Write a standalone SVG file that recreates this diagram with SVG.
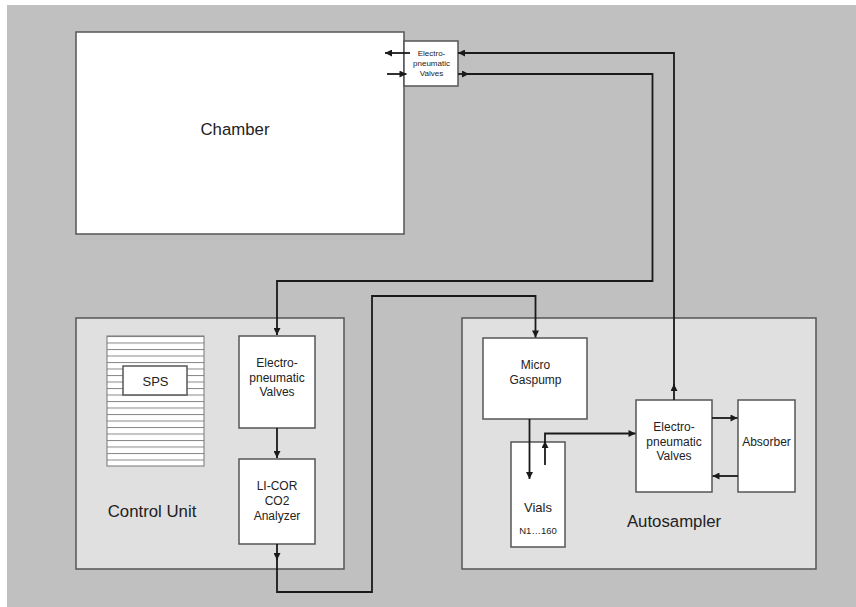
<svg xmlns="http://www.w3.org/2000/svg" width="856" height="607" viewBox="0 0 856 607">
<style>
  .box{fill:#ffffff;stroke:#555555;stroke-width:1.5}
  .panel{fill:#e0e0e0;stroke:#555555;stroke-width:1.5}
  .t{font-family:"Liberation Sans",Arial,sans-serif;fill:#222222;text-anchor:middle}
  .s12{font-size:12px}
  .s16{font-size:16.8px}
  .c{fill:none;stroke:#1a1a1a;stroke-width:1.8}
  .a{marker-end:url(#arr)}
</style>
<defs>
  <marker id="arr" viewBox="0 0 10 10" refX="10" refY="5" markerWidth="8" markerHeight="7" markerUnits="userSpaceOnUse" orient="auto">
    <polygon points="0,0 10,5 0,10" fill="#1a1a1a"/>
  </marker>
  <pattern id="hatch" patternUnits="userSpaceOnUse" x="0" y="336" width="10" height="6.5">
    <rect width="10" height="6.5" fill="#ffffff"/>
    <line x1="0" y1="0.5" x2="10" y2="0.5" stroke="#888888" stroke-width="1"/>
  </pattern>
</defs>
<rect x="0" y="0" width="856" height="607" fill="#ffffff"/>
<rect x="7" y="5" width="849" height="602" fill="#c0c0c0"/>

<g id="chamber">
  <rect class="box" x="76" y="32" width="328" height="202"/>
  <text class="t s16" x="235" y="135">Chamber</text>
</g>
<g id="top-valves">
  <rect class="box" x="404" y="41" width="54" height="45"/>
  <text class="t" style="font-size:8px" x="431.5" y="56">Electro-</text>
  <text class="t" style="font-size:8px" x="431.5" y="66">pneumatic</text>
  <text class="t" style="font-size:8px" x="431.5" y="75.5">Valves</text>
</g>

<g id="control-unit">
  <rect class="panel" x="76" y="318" width="268" height="251"/>
  <text class="t s16" x="152" y="517">Control Unit</text>
</g>
<g id="sps">
  <rect x="107" y="336" width="97" height="130" fill="url(#hatch)" stroke="#777777" stroke-width="1"/>
  <rect class="box" x="123" y="366" width="64" height="29"/>
  <text class="t" style="font-size:13px" x="155.5" y="385.5">SPS</text>
</g>
<g id="cu-valves">
  <rect class="box" x="239" y="336" width="76" height="92"/>
  <text class="t s12" x="277" y="366.5">Electro-</text>
  <text class="t s12" x="277" y="381.5">pneumatic</text>
  <text class="t s12" x="277" y="396">Valves</text>
</g>
<g id="licor">
  <rect class="box" x="239" y="459" width="76" height="85"/>
  <text class="t s12" x="277" y="489.5">LI-COR</text>
  <text class="t s12" x="277" y="504.5">CO2</text>
  <text class="t s12" x="277" y="519.5">Analyzer</text>
</g>

<g id="autosampler">
  <rect class="panel" x="462" y="318" width="354" height="251"/>
  <text class="t s16" x="674" y="527">Autosampler</text>
</g>
<g id="gaspump">
  <rect class="box" x="483" y="338" width="104" height="81"/>
  <text class="t s12" x="535.5" y="368.5">Micro</text>
  <text class="t s12" x="535.5" y="383.5">Gaspump</text>
</g>
<g id="vials">
  <rect class="box" x="511" y="442" width="54" height="105"/>
  <text class="t" style="font-size:13px" x="538" y="511.5">Vials</text>
  <text class="t" style="font-size:9.5px" x="538" y="533.5">N1…160</text>
</g>
<g id="as-valves">
  <rect class="box" x="636" y="400" width="76" height="92"/>
  <text class="t s12" x="674" y="431">Electro-</text>
  <text class="t s12" x="674" y="446">pneumatic</text>
  <text class="t s12" x="674" y="460">Valves</text>
</g>
<g id="absorber">
  <rect class="box" x="738" y="400" width="57" height="92"/>
  <text class="t s12" x="766.5" y="446">Absorber</text>
</g>

<g id="connectors">
  <path class="c a" d="M410,53 H385"/>
  <path class="c a" d="M387,74 H406.5"/>
  <path class="c a" d="M674,400 V384"/>
  <path class="c a" d="M674,386 V53 H458"/>
  <path class="c a" d="M458,74 H469"/>
  <path class="c a" d="M467,74 H652.5 V281 H277 V335"/>
  <path class="c a" d="M277,428 V458"/>
  <path class="c a" d="M277,544 V560"/>
  <path class="c a" d="M277,558 V592 H372 V296 H535.5 V337.5"/>
  <path class="c a" d="M529.5,419 V479"/>
  <path class="c a" d="M545,465 V441"/>
  <path class="c a" d="M545,443 V433.5 H635.5"/>
  <path class="c a" d="M712,418 H737.5"/>
  <path class="c a" d="M738,476 H712.5"/>
</g>
</svg>
